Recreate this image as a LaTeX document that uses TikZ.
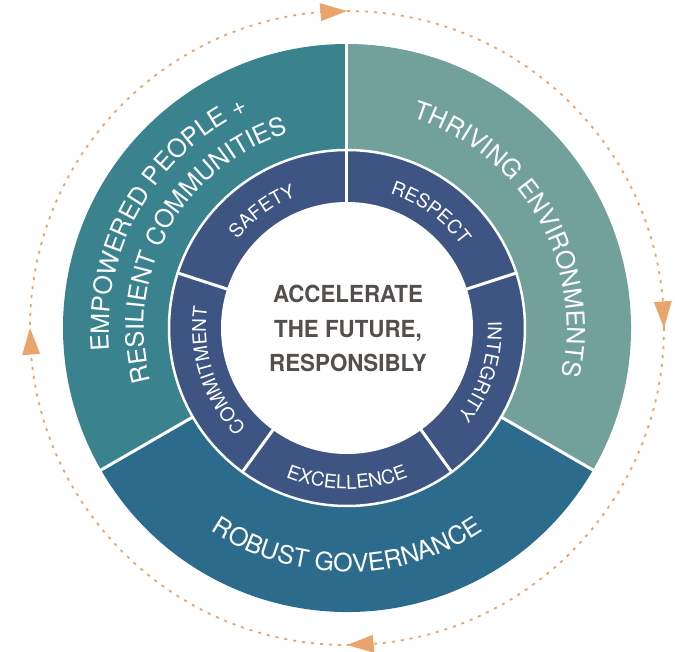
\documentclass[tikz,border=0pt]{standalone}
\usepackage{fontspec}
\usetikzlibrary{decorations.text}
\newfontfamily\ringfont{TeX Gyre Heros}
\newfontfamily\centerfont{TeX Gyre Heros}[FakeStretch=0.95]
\definecolor{segL}{HTML}{3A828D}
\definecolor{segR}{HTML}{72A19C}
\definecolor{segB}{HTML}{2C6B8B}
\definecolor{ringC}{HTML}{3E5482}
\definecolor{ctext}{HTML}{524F4C}
\definecolor{orng}{HTML}{EBA46B}
\newcommand{\innerlbl}{\ringfont\fontsize{19pt}{19pt}\selectfont}
\newcommand{\outerlbl}{\ringfont\fontsize{25pt}{25pt}\selectfont}
\tikzset{
  divider/.style={white, line width=3pt},
  arctext/.style={decorate, decoration={text along path, text align=center, text color=white, text={#1}}},
  centertxt/.style={font=\centerfont\bfseries\fontsize{23.5pt}{28pt}\selectfont, text=ctext, inner sep=0pt},
  cycleline/.style={orng, line width=1.8pt, dash pattern=on 3pt off 6pt},
  cyclehead/.style={fill=orng}
}
\begin{document}
\begin{tikzpicture}
\useasboundingbox (-347pt,-324pt) rectangle (328pt,328pt);
% dotted cycle
\draw[cycleline] (0,0) circle[radius=317pt];
\foreach \t in {90,0,270,180}
  \fill[cyclehead] (\t:317pt) -- (\t+4.8:326pt) -- (\t+4.8:308pt) -- cycle;
% outer sectors
\fill[segL] (0,0) -- (90:284pt) arc[start angle=90, end angle=210, radius=284pt] -- cycle;
\fill[segB] (0,0) -- (210:284pt) arc[start angle=210, end angle=330, radius=284pt] -- cycle;
\fill[segR] (0,0) -- (-30:284pt) arc[start angle=-30, end angle=90, radius=284pt] -- cycle;
\foreach \a in {90,210,330} \draw[divider] (\a:170pt) -- (\a:287pt);
% inner ring
\fill[ringC] (0,0) circle[radius=178pt];
\draw[white, line width=2.5pt] (0,0) circle[radius=178pt];
\foreach \a in {18,90,162,234,306} \draw[divider] (\a:120pt) -- (\a:179pt);
\fill[white] (0,0) circle[radius=126pt];
% inner labels
\path[arctext={|\innerlbl|SAFETY}] (186:141pt) arc[start angle=186, end angle=66, radius=141pt];
\path[arctext={|\innerlbl|RESPECT}] (114:141pt) arc[start angle=114, end angle=-6, radius=141pt];
\path[arctext={|\innerlbl|COMMITMENT}] (258:141pt) arc[start angle=258, end angle=138, radius=141pt];
\path[arctext={|\innerlbl|INTEGRITY}] (42:141pt) arc[start angle=42, end angle=-78, radius=141pt];
\path[arctext={|\innerlbl|EXCELLENCE}] (210:161pt) arc[start angle=210, end angle=330, radius=161pt];
% outer labels
\path[arctext={|\outerlbl|EMPOWERED PEOPLE +}] (240:238pt) arc[start angle=240, end angle=60, radius=238pt];
\path[arctext={|\outerlbl|RESILIENT COMMUNITIES}] (241:203pt) arc[start angle=241, end angle=61, radius=203pt];
\path[arctext={|\outerlbl|THRIVING ENVIRONMENTS}] (110:220pt) arc[start angle=110, end angle=-50, radius=220pt];
\path[arctext={|\outerlbl|ROBUST GOVERNANCE}] (180:244pt) arc[start angle=180, end angle=360, radius=244pt];
% center
\node[centertxt, anchor=base] (c1) at (1pt,25pt) {ACCELERATE};
\node[centertxt, anchor=base] (c2) at (1pt,-10pt) {THE FUTURE,};
\node[centertxt, anchor=base] (c3) at (1pt,-44pt) {RESPONSIBLY};
\end{tikzpicture}
\end{document}
